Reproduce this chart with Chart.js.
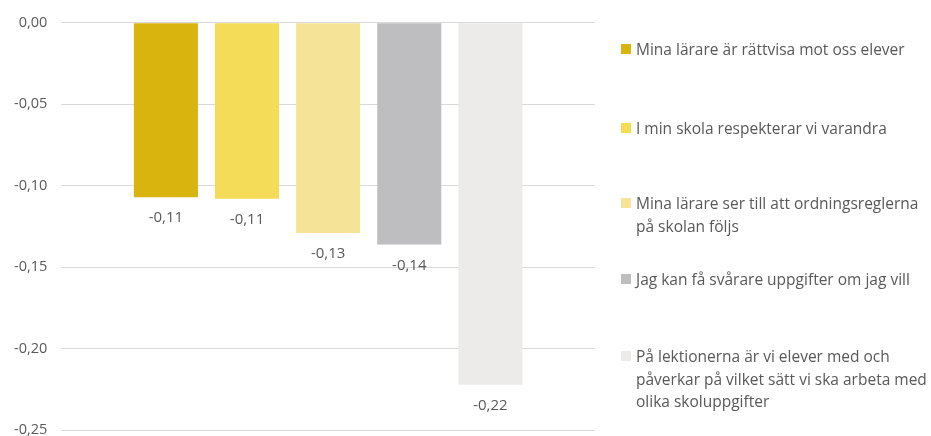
<!DOCTYPE html>
<html>
<head>
<meta charset="utf-8">
<script src="https://cdn.jsdelivr.net/npm/chart.js@4"></script>
<style>
  html, body { margin: 0; padding: 0; background: #fff; overflow: hidden; width: 931px; height: 436px; }
  #wrap { position: relative; width: 931px; height: 453px; }
  #legend { position: absolute; left: 621px; top: 0; font-family: 'Open Sans', sans-serif; font-size: 15.5px; color: #595959; }
  .item { position: absolute; left: 0; width: 310px; line-height: 22.5px; }
  .item span.box { position: absolute; left: 0; top: 6px; width: 10px; height: 10px; }
  .item div { margin-left: 15px; white-space: nowrap; }
</style>
</head>
<body>
<div id="wrap">
  <canvas id="myChart"></canvas>
  <div id="legend"></div>
</div>
<script>
const categories = [''];
const seriesNames = [
    ['Mina lärare är rättvisa mot oss elever'],
    ['I min skola respekterar vi varandra'],
    ['Mina lärare ser till att ordningsreglerna', 'på skolan följs'],
    ['Jag kan få svårare uppgifter om jag vill'],
    ['På lektionerna är vi elever med och', 'påverkar på vilket sätt vi ska arbeta med', 'olika skoluppgifter']
];
const seriesValues = [-0.107, -0.108, -0.129, -0.136, -0.222];
const colors = ['#d9b40f', '#f4dc59', '#f5e497', '#bebec1', '#ecebe9'];
const legendTops = [38, 117, 192, 268, 345];

const fmt = v => v.toFixed(2).replace('.', ',');

const ctx = document.getElementById('myChart');

const valueLabels = {
    id: 'valueLabels',
    afterDatasetsDraw(chart) {
        const c = chart.ctx;
        c.save();
        c.font = '15px "Open Sans", sans-serif';
        c.fillStyle = '#595959';
        c.textAlign = 'center';
        c.textBaseline = 'middle';
        chart.data.datasets.forEach((ds, i) => {
            const meta = chart.getDatasetMeta(i);
            const bar = meta.data[0];
            c.fillText(fmt(ds.data[0]), bar.x, bar.y + 21);
        });
        c.restore();
    }
};

var myChart = new Chart(ctx, {
    type: 'bar',
    data: {
        labels: categories,
        datasets: seriesValues.map((v, i) => ({
            label: seriesNames[i].join(' '),
            data: [v],
            backgroundColor: colors[i],
            borderWidth: 0,
            categoryPercentage: 0.76,
            barPercentage: 0.79
        }))
    },
    options: {
        responsive: true,
        maintainAspectRatio: false,
        animation: false,
        layout: { padding: { top: 5, right: 336, left: 0, bottom: 0 } },
        plugins: {
            legend: { display: false },
            tooltip: { enabled: false }
        },
        scales: {
            x: { display: false },
            y: {
                min: -0.25,
                max: 0,
                ticks: {
                    stepSize: 0.05,
                    color: '#595959',
                    font: { family: 'Open Sans', size: 14.5 },
                    padding: 14,
                    callback: v => fmt(v)
                },
                grid: { color: '#d9d9d9', drawTicks: false },
                border: { display: false }
            }
        }
    },
    plugins: [valueLabels]
});

const legend = document.getElementById('legend');
seriesNames.forEach((lines, i) => {
    const item = document.createElement('div');
    item.className = 'item';
    item.style.top = legendTops[i] + 'px';
    item.innerHTML = '<span class="box" style="background:' + colors[i] + '"></span><div>' + lines.join('<br>') + '</div>';
    legend.appendChild(item);
});
</script>
</body>
</html>
